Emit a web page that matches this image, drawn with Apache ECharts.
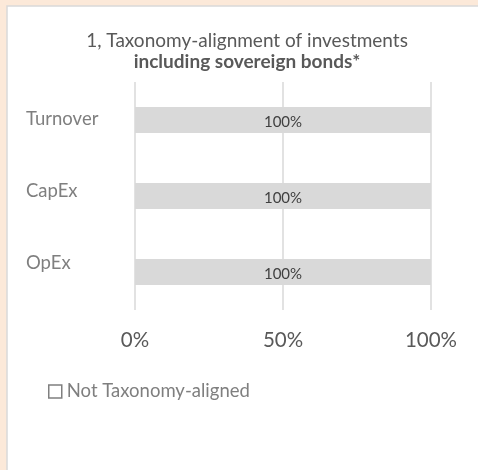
<!DOCTYPE html>
<html>
<head>
<meta charset="utf-8">
<script src="https://cdn.jsdelivr.net/npm/echarts@6/dist/echarts.min.js"></script>
<style>
  html, body { margin: 0; padding: 0; }
  #chart { width: 478px; height: 470px; }
</style>
</head>
<body>
<div id="chart"></div>
<script>
var categories = ["Turnover", "CapEx", "OpEx"];
var notAligned = [100, 100, 100];
var seriesName = "Not Taxonomy-aligned";
var xTicks = [0, 50, 100];

var myChart = echarts.init(document.getElementById("chart"));

var option = {
  backgroundColor: "#FCE9D9",
  animation: false,
  textStyle: { fontFamily: "Lato" },
  graphic: [
    {
      type: "rect",
      z: -10,
      shape: { x: 7, y: 6, width: 480, height: 470 },
      style: { fill: "#ffffff", stroke: "#D9D9D9", lineWidth: 1.5 }
    }
  ],
  title: {
    left: "center",
    top: 25,
    text: "{a|1, Taxonomy-alignment of investments}\n{b|including sovereign bonds*}",
    textStyle: {
      fontWeight: "normal",
      rich: {
        a: { fontFamily: "Lato", fontSize: 19, fontWeight: "normal", color: "#595959", lineHeight: 21.5, padding: [0, 0, 0, 16] },
        b: { fontFamily: "Lato", fontSize: 19, fontWeight: "bold", color: "#595959", lineHeight: 21.5, padding: [0, 0, 0, 16] }
      }
    }
  },
  legend: {
    left: 43,
    top: 377,
    data: [seriesName],
    icon: "rect",
    itemWidth: 13,
    itemHeight: 13,
    itemStyle: { color: "#ffffff", borderColor: "#7F7F7F", borderWidth: 1.5 },
    textStyle: { fontFamily: "Lato", fontSize: 18.5, color: "#7F7F7F" }
  },
  grid: {
    left: 135,
    right: 47,
    top: 82,
    bottom: 160,
    containLabel: false
  },
  xAxis: {
    type: "value",
    min: 0,
    max: 100,
    interval: 50,
    axisLine: { show: false },
    axisTick: { show: false },
    axisLabel: {
      margin: 20,
      fontFamily: "Lato",
      fontSize: 20.5,
      color: "#595959",
      formatter: function (v) {
        return xTicks.indexOf(v) >= 0 ? v + "%" : "";
      }
    },
    splitLine: { lineStyle: { color: "#D9D9D9", width: 1.5 } }
  },
  yAxis: {
    type: "category",
    inverse: true,
    data: categories,
    axisLine: { show: false },
    axisTick: { show: false },
    axisLabel: {
      align: "left",
      margin: 109,
      fontFamily: "Lato",
      fontSize: 18.5,
      color: "#7F7F7F",
      formatter: function (v, i) {
        return "{c" + i + "|" + v + "}";
      },
      rich: {
        c0: { padding: [0, 0, 2, 0] },
        c1: { padding: [0, 0, 10, 0] },
        c2: { padding: [0, 0, 18, 0] }
      }
    }
  },
  series: [
    {
      name: seriesName,
      type: "bar",
      data: notAligned,
      barWidth: 26,
      itemStyle: { color: "#D9D9D9" },
      label: {
        show: true,
        position: "inside",
        offset: [0, 2],
        fontFamily: "Lato",
        fontSize: 15,
        color: "#404040",
        formatter: "{c}%"
      }
    }
  ]
};

myChart.setOption(option);
</script>
</body>
</html>
